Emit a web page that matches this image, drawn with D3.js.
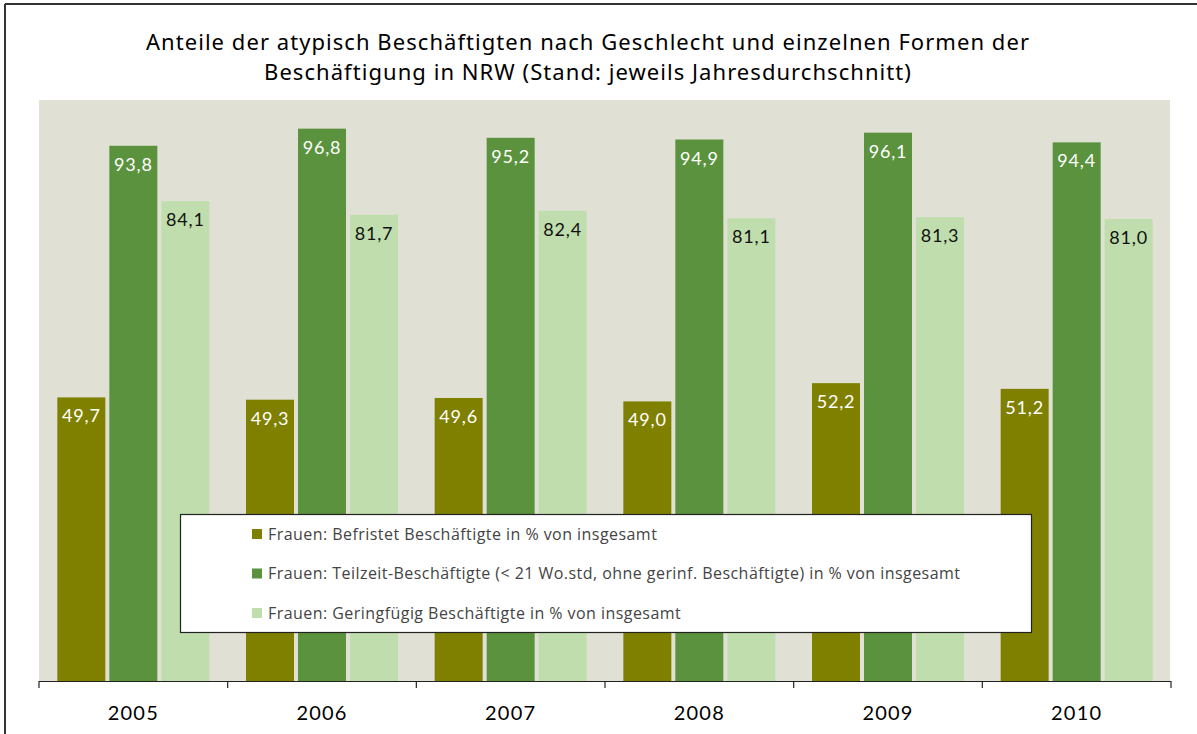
<!DOCTYPE html>
<html><head><meta charset="utf-8">
<script src="https://cdn.jsdelivr.net/npm/d3@7"></script>
<style>
html,body{margin:0;padding:0;background:#fff;}
svg{display:block;}
</style></head>
<body>
<svg id="chart" width="1197" height="734"></svg>
<script>
const years = ["2005","2006","2007","2008","2009","2010"];
const befristet = [49.7, 49.3, 49.6, 49.0, 52.2, 51.2];
const teilzeit = [93.8, 96.8, 95.2, 94.9, 96.1, 94.4];
const geringfuegig = [84.1, 81.7, 82.4, 81.1, 81.3, 81.0];
const seriesNames = [
  "Frauen: Befristet Beschäftigte in % von insgesamt",
  "Frauen: Teilzeit-Beschäftigte (< 21 Wo.std, ohne gerinf. Beschäftigte) in % von insgesamt",
  "Frauen: Geringfügig Beschäftigte in % von insgesamt"
];
const colors = ["#808000", "#5b923e", "#c0dead"];
const labelColors = ["#ffffff", "#ffffff", "#111111"];
const titleLines = [
  "Anteile der atypisch Beschäftigten nach Geschlecht und einzelnen Formen der",
  "Beschäftigung in NRW (Stand: jeweils Jahresdurchschnitt)"
];

const series = [befristet, teilzeit, geringfuegig];
const svg = d3.select("#chart");

// outer frame (top and left)
svg.append("line").attr("x1",5).attr("x2",1197).attr("y1",4).attr("y2",4).attr("stroke","#333").attr("stroke-width",2);
svg.append("line").attr("x1",5).attr("x2",5).attr("y1",4).attr("y2",734).attr("stroke","#333").attr("stroke-width",2);

// title
svg.append("g").selectAll("text").data(titleLines).join("text")
  .attr("x", 588).attr("y", (d,i)=>50 + i*30)
  .attr("text-anchor","middle")
  .attr("font-family","'Noto Sans', sans-serif")
  .attr("font-size", 22)
  .attr("letter-spacing", 1.05)
  .attr("fill","#000")
  .text(d=>d);

const left = 39, right = 1171, base = 681;
const x = d3.scaleBand().domain(years).range([left, right]).paddingInner(0).paddingOuter(0);
const y = d3.scaleLinear().domain([0,100]).range([base, base - 570.6]);

// plot background
svg.append("rect").attr("x", left).attr("y", 100).attr("width", 1170-left).attr("height", base-100).attr("fill","#e0e0d4");

const barW = 48, gap = 4;
const groupW = barW*3 + gap*2;
const xs = d3.scaleBand().domain([0,1,2]).range([0, groupW]).paddingInner(gap/(barW+gap)).paddingOuter(0);

const groups = svg.append("g").selectAll("g").data(years).join("g")
  .attr("transform", d=>`translate(${x(d) + (x.bandwidth()-groupW)/2},0)`);

series.forEach((vals, si) => {
  groups.append("rect")
    .attr("x", xs(si)).attr("width", xs.bandwidth())
    .attr("y", (d,i)=>y(vals[i])).attr("height", (d,i)=>base - y(vals[i]))
    .attr("fill", colors[si]);
  groups.append("text")
    .attr("x", xs(si) + xs.bandwidth()/2)
    .attr("y", (d,i)=>y(vals[i]) + 25)
    .attr("text-anchor","middle")
    .attr("font-family","Lato, sans-serif")
    .attr("font-size", 18)
    .attr("letter-spacing", 0.8)
    .attr("fill", labelColors[si])
    .text((d,i)=>d3.format(".1f")(vals[i]).replace(".", ","));
});

// axis
const axis = d3.axisBottom(x).tickSize(0).tickPadding(0);
const ax = svg.append("g").attr("transform",`translate(0,${base})`);
ax.append("line").attr("x1",left).attr("x2",right).attr("y1",0.5).attr("y2",0.5).attr("stroke","#222").attr("stroke-width",1.2);
const tickXs = years.map(d=>x(d)).concat([right]);
ax.selectAll("line.tk").data(tickXs).join("line").attr("class","tk")
  .attr("x1",d=>d).attr("x2",d=>d).attr("y1",0).attr("y2",7).attr("stroke","#222").attr("stroke-width",1.2);
ax.append("g").call(axis).call(g=>g.select(".domain").remove())
  .selectAll("text")
  .attr("y", 39).attr("dy", 0)
  .attr("font-family","Lato, sans-serif")
  .attr("font-size", 20)
  .attr("letter-spacing", 1.2)
  .attr("fill","#000");

// legend
const lg = svg.append("g");
lg.append("rect").attr("x",180.5).attr("y",514.5).attr("width",851).attr("height",118)
  .attr("fill","#fff").attr("stroke","#222").attr("stroke-width",1.2);
const items = lg.selectAll("g").data(seriesNames).join("g")
  .attr("transform",(d,i)=>`translate(252,${534 + i*39.5})`);
items.append("rect").attr("x",0).attr("y",-5).attr("width",10).attr("height",10).attr("fill",(d,i)=>colors[i]);
items.append("text").attr("x",16).attr("y",0).attr("dy","0.35em")
  .attr("font-family","'Open Sans', sans-serif").attr("font-size",16).attr("letter-spacing",0.45).attr("fill","#444")
  .text(d=>d);
</script>
</body></html>
